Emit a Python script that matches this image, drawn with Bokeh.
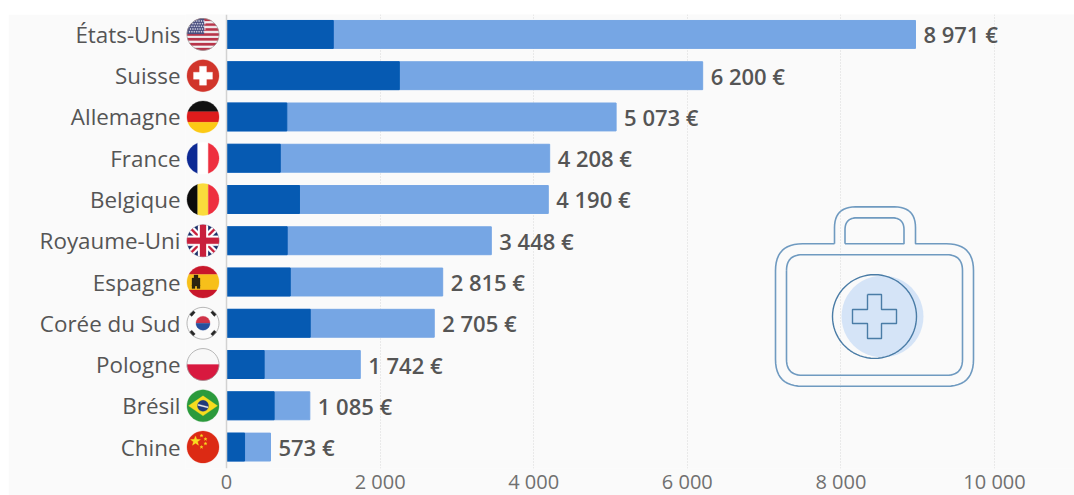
from math import cos, sin, pi, hypot
from bokeh.plotting import figure
from bokeh.models import ColumnDataSource, FixedTicker, Range1d, Span
from bokeh.core.properties import value
from bokeh.embed import file_html
from bokeh.resources import INLINE

countries = ["États-Unis", "Suisse", "Allemagne", "France", "Belgique", "Royaume-Uni",
             "Espagne", "Corée du Sud", "Pologne", "Brésil", "Chine"]
part_dark = [1390, 2250, 785, 700, 950, 790, 830, 1090, 490, 620, 235]
totals = [8971, 6200, 5073, 4208, 4190, 3448, 2815, 2705, 1742, 1085, 573]
value_labels = ["8 971 €", "6 200 €", "5 073 €", "4 208 €", "4 190 €", "3 448 €",
                "2 815 €", "2 705 €", "1 742 €", "1 085 €", "573 €"]
x_ticks = [0, 2000, 4000, 6000, 8000, 10000]
x_tick_labels = ["0", "2 000", "4 000", "6 000", "8 000", "10 000"]

DARK, LIGHT = "#065ab2", "#76a6e4"
BG = "#fafafa"
FONT = "Open Sans"

# layout scale (pixels per data unit)
PX_X = 0.0768
PX_Y = 41.4
ZERO_PX, FIRST_ROW_PX = 226, 34
LEFT, TOP, W, H, FRAME_LEFT, FRAME_BOTTOM = 8, 14, 1066, 483, 185, 469.5


def dx(px):
    return (px - ZERO_PX) / PX_X


def dy(px):
    return (px - FIRST_ROW_PX) / PX_Y


p = figure(width=W, height=H, output_backend="svg", toolbar_location=None,
           x_range=Range1d(dx(FRAME_LEFT), dx(LEFT + W)),
           y_range=Range1d(dy(FRAME_BOTTOM), dy(TOP)),
           min_border_left=FRAME_LEFT - LEFT, min_border_right=0, min_border_top=0,
           min_border_bottom=20,
           margin=(TOP, 0, -2, LEFT),
           background_fill_color=BG, border_fill_color=BG, outline_line_color=None)

p.ygrid.visible = False
p.xgrid.ticker = FixedTicker(ticks=x_ticks[1:])
p.xgrid.grid_line_color = "#d9d9d9"
p.xgrid.grid_line_dash = "1 2"
p.xgrid.grid_line_width = 1

p.xaxis.ticker = FixedTicker(ticks=x_ticks)
p.xaxis.major_label_overrides = dict(zip(x_ticks, x_tick_labels))
p.xaxis.axis_line_color = None
p.xaxis.major_tick_line_color = None
p.xaxis.minor_tick_line_color = None
p.xaxis.major_tick_out = 0
p.xaxis.major_tick_in = 0
p.xaxis.minor_tick_out = 0
p.xaxis.major_label_text_font = FONT
p.xaxis.major_label_text_font_size = "20px"
p.xaxis.major_label_text_color = "#707070"
p.xaxis.major_label_text_line_height = 0.8
p.xaxis.major_label_standoff = -1

rows = list(range(len(countries)))
p.yaxis.ticker = FixedTicker(ticks=rows)
p.yaxis.major_label_overrides = dict(zip(rows, countries))
p.yaxis.axis_line_color = None
p.yaxis.major_tick_line_color = None
p.yaxis.minor_tick_line_color = None
p.yaxis.major_tick_out = 0
p.yaxis.major_tick_in = 0
p.yaxis.minor_tick_out = 0
p.yaxis.major_label_text_font = FONT
p.yaxis.major_label_text_font_size = "22.4px"
p.yaxis.major_label_text_color = "#555555"
p.yaxis.major_label_standoff = 5

p.add_layout(Span(location=0, dimension="height", line_color="#d2d2d2", line_width=1.5))

src = ColumnDataSource(dict(y=rows, dark=part_dark, total=totals, lab=value_labels))
p.hbar(y="y", left=0, right="total", height=28 / PX_Y, color=LIGHT, source=src)
p.hbar(y="y", left=0, right="dark", height=28 / PX_Y, color=DARK, source=src)
p.text(x="total", y="y", text="lab", source=src, x_offset=8, y_offset=0,
       text_font=value("Open Sans SemiBold"), text_font_size="22px",
       text_color="#555555", text_align="left", text_baseline="middle")


# ---------- flags, drawn with polygons clipped to a disc ----------
R = 16


def disc(r=R, cx=0.0, cy=0.0, n=48):
    return [(cx + r * cos(2 * pi * k / n), cy + r * sin(2 * pi * k / n)) for k in range(n)]


def clip(poly, r=R):
    out = poly
    edge = disc(r)
    for k in range(len(edge)):
        ax, ay = edge[k]
        bx, by = edge[(k + 1) % len(edge)]
        inside = lambda q: (bx - ax) * (q[1] - ay) - (by - ay) * (q[0] - ax) >= 0
        res = []
        for j in range(len(out)):
            c, d = out[j], out[(j + 1) % len(out)]
            ci, di = inside(c), inside(d)
            if ci:
                res.append(c)
            if ci != di:
                ex, ey = d[0] - c[0], d[1] - c[1]
                den = (bx - ax) * ey - (by - ay) * ex
                t = -((bx - ax) * (c[1] - ay) - (by - ay) * (c[0] - ax)) / den
                res.append((c[0] + t * ex, c[1] + t * ey))
        out = res
        if not out:
            return []
    return out


def rect(x0, y0, x1, y1):
    return [(x0, y0), (x1, y0), (x1, y1), (x0, y1)]


def band(x0, y0, x1, y1, w):
    L = hypot(x1 - x0, y1 - y0)
    nx, ny = -(y1 - y0) / L * w / 2, (x1 - x0) / L * w / 2
    return [(x0 + nx, y0 + ny), (x1 + nx, y1 + ny), (x1 - nx, y1 - ny), (x0 - nx, y0 - ny)]


def star(cx, cy, r, rot=-pi / 2):
    return [(cx + (r if k % 2 == 0 else r * 0.42) * cos(rot + k * pi / 5),
             cy + (r if k % 2 == 0 else r * 0.42) * sin(rot + k * pi / 5)) for k in range(10)]


S = 17
FLAGS = {}
us = [("#f4f4f6", disc())]
for k in range(7):
    y0 = -16 + k * 2 * 32 / 13
    us.append(("#b8354a", rect(-S, y0, S, y0 + 32 / 13)))
us.append(("#4a4f80", rect(-S, -S, 1, -0.5)))
for a in range(7):
    for b in range(5):
        us.append(("#e8e8f0", rect(-14 + a * 2.4 + (b % 2) * 1.0, -14 + b * 2.7,
                                   -13 + a * 2.4 + (b % 2) * 1.0, -13 + b * 2.7)))
FLAGS[0] = us
FLAGS[1] = [("#d1352b", disc()), ("#ffffff", rect(-9.5, -3.5, 9.5, 3.5)), ("#ffffff", rect(-3.5, -9.5, 3.5, 9.5))]
FLAGS[2] = [("#111111", rect(-S, -S, S, -5.3)), ("#dd1c1c", rect(-S, -5.3, S, 5.3)), ("#fcc915", rect(-S, 5.3, S, S))]
FLAGS[3] = [("#0d2a94", rect(-S, -S, -5.3, S)), ("#ffffff", rect(-5.3, -S, 5.3, S)), ("#ee2f3f", rect(5.3, -S, S, S))]
FLAGS[4] = [("#0b0b0b", rect(-S, -S, -5.3, S)), ("#fadc3c", rect(-5.3, -S, 5.3, S)), ("#ee2f3f", rect(5.3, -S, S, S))]
FLAGS[5] = [("#1c2f68", disc()),
            ("#ffffff", band(-S, -S, S, S, 6.5)), ("#ffffff", band(-S, S, S, -S, 6.5)),
            ("#c8203c", band(-S, -S, S, S, 2.2)), ("#c8203c", band(-S, S, S, -S, 2.2)),
            ("#ffffff", rect(-S, -5, S, 5)), ("#ffffff", rect(-5, -S, 5, S)),
            ("#c8203c", rect(-S, -3, S, 3)), ("#c8203c", rect(-3, -S, 3, S))]
FLAGS[6] = [("#c8172b", rect(-S, -S, S, -7.5)), ("#f7c01a", rect(-S, -7.5, S, 8)), ("#c8172b", rect(-S, 8, S, S)),
            ("#2c2410", rect(-11, -4, -3, 4)), ("#2c2410", rect(-9, -7, -5, -3)), ("#2c2410", rect(-11, 3, -8, 6.5)),
            ("#2c2410", rect(-6, 3, -3, 6.5))]
kr = [("#fbfbfb", disc()), ("#cf3348", [(7 * cos(t * pi / 16), 7 * sin(t * pi / 16)) for t in range(16, 33)]),
      ("#254f9d", [(7 * cos(t * pi / 16), 7 * sin(t * pi / 16)) for t in range(0, 17)])]
for sx in (-1, 1):
    for sy in (-1, 1):
        kr.append(("#262626", band(sx * 9, sy * 12, sx * 12.5, sy * 8, 3.4)))
FLAGS[7] = kr
FLAGS[8] = [("#f8f8f8", rect(-S, -S, S, 0)), ("#d8193f", rect(-S, 0, S, S))]
FLAGS[9] = [("#2b9a3c", disc()), ("#f6dc1f", [(-14.5, 0), (0, -10), (14.5, 0), (0, 10)]),
            ("#1f3a7a", disc(5.5)), ("#e8e8e8", band(-5, -1, 5, 1.5, 1.2))]
FLAGS[10] = [("#dc2a14", disc()), ("#f8dc20", star(-7.5, -6, 5.2)),
             ("#f8dc20", star(-1.5, -11.5, 1.7)), ("#f8dc20", star(2.5, -8, 1.7)),
             ("#f8dc20", star(2.5, -3.5, 1.7)), ("#f8dc20", star(-1.5, 0, 1.7))]

FLAG_CX = dx(202.5)
xs, ys, colors = [], [], []
for row, shapes in FLAGS.items():
    for color, poly in shapes:
        poly = clip(poly)
        if poly:
            xs.append([FLAG_CX + q[0] / PX_X for q in poly])
            ys.append([row + q[1] / PX_Y for q in poly])
            colors.append(color)
p.patches(xs, ys, fill_color=colors, line_color=colors, line_width=0.3)

# thin ring around the pale flags
ring = disc(16)
for row in (0, 7, 8):
    p.patch([FLAG_CX + q[0] / PX_X for q in ring], [row + q[1] / PX_Y for q in ring],
            fill_color=None, line_color="#9a9a9a", line_width=0.7)


# ---------- first-aid case icon ----------
def rounded(points, radii):
    out = []
    for k, (c, r) in enumerate(zip(points, radii)):
        prev, nxt = points[k - 1], points[(k + 1) % len(points)]
        if r == 0:
            out.append(c)
            continue
        a = (prev[0] - c[0], prev[1] - c[1])
        b = (nxt[0] - c[0], nxt[1] - c[1])
        la, lb = hypot(*a), hypot(*b)
        a = (a[0] / la, a[1] / la)
        b = (b[0] / lb, b[1] / lb)
        for j in range(13):
            t = j / 12
            w0, w1 = (1 - t) ** 2, t ** 2
            out.append((c[0] + r * (w0 * a[0] + w1 * b[0]), c[1] + r * (w0 * a[1] + w1 * b[1])))
    return out


def draw_line(pts, color="#6f9ac0", width=1.6):
    p.line([dx(q[0]) for q in pts], [dy(q[1]) for q in pts], line_color=color, line_width=width)


pale = disc(41, 882, 317)
p.patch([dx(q[0]) for q in pale], [dy(q[1]) for q in pale], fill_color="#d5e4f7", line_color=None)

outer = rounded([(834, 244), (834, 207), (915, 207), (915, 244), (973, 244), (973, 387), (775, 387), (775, 244)],
                [0, 21, 21, 0, 27, 27, 27, 27])
draw_line(outer + outer[:1])
inner = rounded([(786, 255), (962, 255), (962, 376), (786, 376)], [16, 16, 16, 16])
draw_line(inner + inner[:1])
handle = rounded([(844.5, 244), (844.5, 218), (903.5, 218), (903.5, 244)], [0, 12, 12, 0])
draw_line(handle + handle[:1])
rim = disc(42, 874, 317, 72)
draw_line(rim + rim[:1], "#4a7ca6", 1.4)
cross = [(867, 295), (881, 295), (881, 310), (896, 310), (896, 324), (881, 324), (881, 339), (867, 339),
         (867, 324), (852, 324), (852, 310), (867, 310), (867, 295)]
draw_line(cross, "#4a7ca6", 1.4)

open("out.html", "w").write(file_html(p, INLINE))
